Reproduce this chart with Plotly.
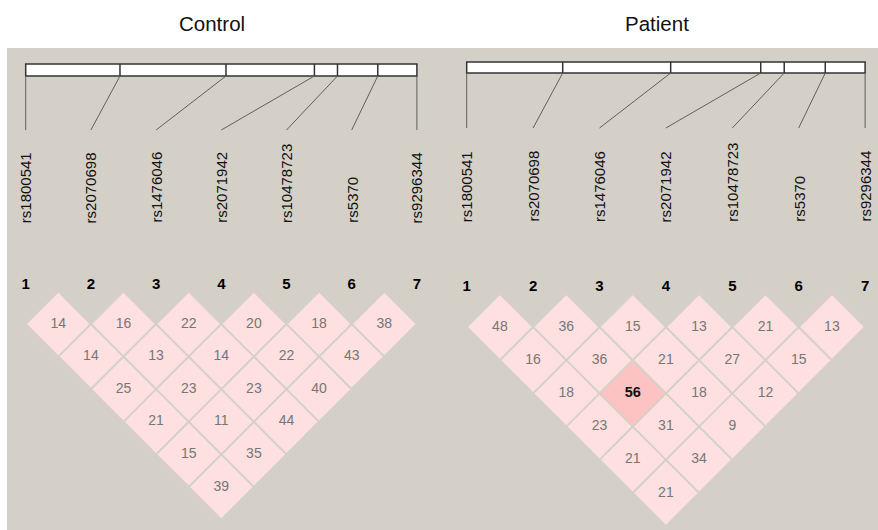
import plotly.graph_objects as go

# SNP markers, in map order
snps = ["rs1800541", "rs2070698", "rs1476046", "rs2071942",
        "rs10478723", "rs5370", "rs9296344"]
# relative map position of each SNP along the region (0 = first, 1 = last)
snp_map_pos = [0.0, 0.241, 0.512, 0.738, 0.797, 0.900, 1.0]

# pairwise LD values (D' x 100); row d holds pairs (i, i + d + 1)
control_ld = [
    [14, 16, 22, 20, 18, 38],
    [14, 13, 14, 22, 43],
    [25, 23, 23, 40],
    [21, 11, 44],
    [15, 35],
    [39],
]
patient_ld = [
    [48, 36, 15, 13, 21, 13],
    [16, 36, 21, 27, 15],
    [18, 56, 18, 12],
    [23, 31, 9],
    [21, 34],
    [21],
]
group_names = ["Control", "Patient"]

W, H = 878, 530
BG = "#d4d0c8"
CELL = "#fee0e0"
CELL_HI = "#fdc3c3"
FONT = "Arial, Liberation Sans, sans-serif"

panels = [
    dict(name=group_names[0], ld=control_ld, xa="x", xaxis="xaxis",
         domain=[0, 440 / W], unit=65.2, first_px=25.7, width_px=440,
         bar=(64, 76), link_end=130, label_bottom=223, num_y=285,
         row0=324, title_px=212),
    dict(name=group_names[1], ld=patient_ld, xa="x2", xaxis="xaxis2",
         domain=[440 / W, 1], unit=66.4, first_px=26.7, width_px=438,
         bar=(62, 73), link_end=128, label_bottom=222, num_y=287,
         row0=327, title_px=657),
]

fig = go.Figure()
shapes = [dict(type="rect", xref="paper", yref="y", x0=7 / W, x1=1,
               y0=48, y1=H, fillcolor=BG, line=dict(width=0), layer="below")]
annotations = []
gap = 1.4  # px trimmed off each diamond so the background shows between cells

for p in panels:
    xa = p["xa"]
    n = len(snps)
    half_px = p["unit"] / 2
    hw = 0.5 - gap / p["unit"]
    hh = half_px - gap
    map_x = [1 + (n - 1) * f for f in snp_map_pos]

    # diamonds of the LD matrix
    tx, ty, tt = [], [], []
    hx, hy, ht = [], [], []
    for d, row in enumerate(p["ld"]):
        for i, v in enumerate(row):
            a, b = i + 1, i + d + 2
            cx = (a + b) / 2
            cy = p["row0"] + d * half_px
            strong = v >= 50
            fig.add_trace(go.Scatter(
                x=[cx - hw, cx, cx + hw, cx, cx - hw],
                y=[cy, cy - hh, cy, cy + hh, cy],
                xaxis=xa, yaxis="y", mode="lines", fill="toself",
                fillcolor=CELL_HI if strong else CELL, line=dict(width=0),
                hoverinfo="skip", showlegend=False))
            if strong:
                hx.append(cx)
                hy.append(cy)
                ht.append(str(v))
            else:
                tx.append(cx)
                ty.append(cy)
                tt.append(str(v))
    fig.add_trace(go.Scatter(
        x=tx, y=ty, text=tt, mode="text", xaxis=xa, yaxis="y",
        textposition="middle center",
        textfont=dict(family=FONT, size=14, color="#767676"),
        hoverinfo="skip", showlegend=False))
    if hx:
        fig.add_trace(go.Scatter(
            x=hx, y=hy, text=ht, mode="text", xaxis=xa, yaxis="y",
            textposition="middle center",
            textfont=dict(family=FONT, size=14.5, color="#111111",
                          weight="bold"),
            hoverinfo="skip", showlegend=False))

    # marker numbers
    fig.add_trace(go.Scatter(
        x=list(range(1, n + 1)), y=[p["num_y"]] * n,
        text=[str(k) for k in range(1, n + 1)], mode="text",
        xaxis=xa, yaxis="y", textposition="middle center",
        textfont=dict(family=FONT, size=15, color="#000000",
                      weight="bold"),
        hoverinfo="skip", showlegend=False))

    # map bar with dividers at each SNP
    top, bot = p["bar"]
    shapes.append(dict(type="rect", xref=xa, yref="y", x0=map_x[0],
                       x1=map_x[-1], y0=top, y1=bot, fillcolor="white",
                       line=dict(color="#333333", width=1.5)))
    for k, mx in enumerate(map_x):
        if 0 < k < n - 1:
            shapes.append(dict(type="line", xref=xa, yref="y", x0=mx, x1=mx,
                               y0=top, y1=bot,
                               line=dict(color="#333333", width=1.5)))
        # connector from map position to marker column
        shapes.append(dict(type="line", xref=xa, yref="y", x0=mx, x1=k + 1,
                           y0=bot, y1=p["link_end"],
                           line=dict(color="#5f5f5f", width=1)))
        annotations.append(dict(
            text=snps[k], xref=xa, yref="y", x=k + 1, y=p["label_bottom"],
            xanchor="center", yanchor="bottom", textangle=-90,
            showarrow=False, borderpad=0, borderwidth=0,
            font=dict(family=FONT, size=15, color="#111111")))

    annotations.append(dict(
        text=p["name"], xref="paper", yref="y", x=p["title_px"] / W, y=23,
        xanchor="center", yanchor="middle", showarrow=False,
        font=dict(family=FONT, size=20.5, color="#111111")))

    r0 = 1 - p["first_px"] / p["unit"]
    r1 = r0 + p["width_px"] / p["unit"]
    fig.layout[p["xaxis"]] = dict(domain=p["domain"], range=[r0, r1],
                                  visible=False, fixedrange=True,
                                  anchor="y")

fig.update_layout(
    width=W, height=H,
    margin=dict(l=0, r=0, t=0, b=0),
    paper_bgcolor="white", plot_bgcolor="rgba(0,0,0,0)",
    yaxis=dict(range=[H, 0], domain=[0, 1], visible=False,
               fixedrange=True),
    shapes=shapes, annotations=annotations,
    showlegend=False,
)

fig.write_html("out.html", config={"displayModeBar": False})
